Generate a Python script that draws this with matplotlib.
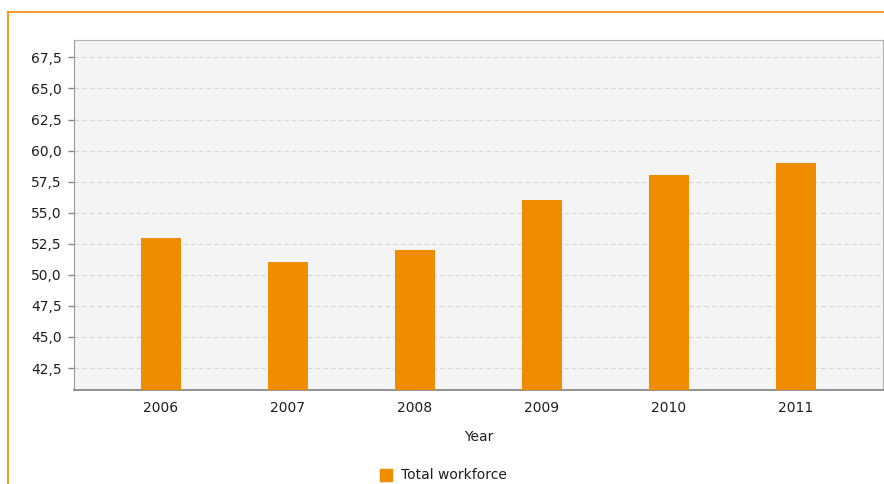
import matplotlib
matplotlib.use('Agg')
import matplotlib.pyplot as plt
from matplotlib.lines import Line2D
from matplotlib.patches import Rectangle
import numpy as np

years = ['2006', '2007', '2008', '2009', '2010', '2011']
workforce = [53.0, 51.0, 52.0, 56.0, 58.0, 59.0]
yticks = [42.5, 45.0, 47.5, 50.0, 52.5, 55.0, 57.5, 60.0, 62.5, 65.0, 67.5]

orange = '#f08c00'
txt = '#1e1e1e'
W, H = 884, 484

fig = plt.figure(figsize=(W / 100, H / 100), dpi=100)
ax = fig.add_axes([74 / W, (H - 390) / H, 809 / W, 350 / H])
ax.set_facecolor('#f4f4f4')

x = np.arange(len(years))
ax.bar(x, workforce, width=0.315, color=orange, zorder=3)

ax.set_xlim(-0.685, len(years) - 1 + 0.685)
ax.set_ylim(40.73, 68.9)
ax.set_yticks(yticks)
ax.set_yticklabels([f"{v:.1f}".replace('.', ',') for v in yticks])
ax.set_xticks(x)
ax.set_xticklabels(years)

ax.yaxis.grid(True, linestyle=(0, (4, 3)), color='#d6d6d6', linewidth=0.8, zorder=0)
ax.set_axisbelow(True)

ax.tick_params(axis='y', length=4, width=1, color='#888888', pad=5,
               labelsize=10, labelcolor=txt)
ax.tick_params(axis='x', length=0, pad=8, labelsize=10, labelcolor=txt)

for s in ['top', 'right', 'left']:
    ax.spines[s].set_color('#b4b4b4')
ax.spines['left'].set_color('#999999')
ax.spines['bottom'].set_color('#808080')
ax.spines['bottom'].set_linewidth(1.2)

# axis title
fig.text(479 / W, (H - 437) / H, 'Year', fontsize=10, color=txt,
         ha='center', va='center')

# legend
fig.add_artist(Rectangle((380 / W, (H - 481) / H), 12 / W, 12 / H,
                         transform=fig.transFigure, color=orange))
fig.text(401 / W, (H - 475) / H, 'Total workforce', fontsize=10,
         color=txt, va='center', ha='left')

# orange frame (top and left)
fig.add_artist(Line2D([8 / W, 1.0], [(H - 12) / H, (H - 12) / H],
                      transform=fig.transFigure, color=orange, linewidth=1.2))
fig.add_artist(Line2D([8 / W, 8 / W], [0, (H - 12) / H],
                      transform=fig.transFigure, color=orange, linewidth=1.2))

fig.savefig('out.png', dpi=100)
